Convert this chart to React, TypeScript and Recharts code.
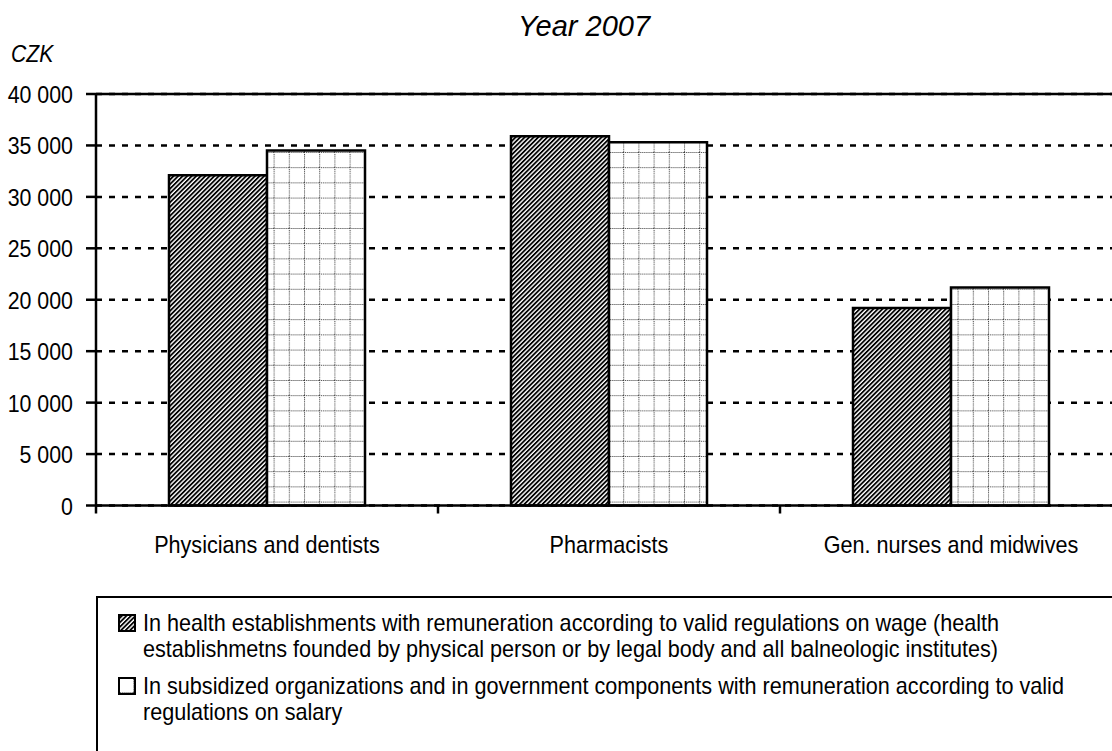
import React from "react";
import {
  Bar,
  BarChart,
  CartesianGrid,
  Legend,
  ReferenceLine,
  XAxis,
  YAxis,
} from "recharts";

const categories = ["Physicians and dentists", "Pharmacists", "Gen. nurses and midwives"];
const healthEstablishments = [32100, 35900, 19200];
const subsidizedOrganizations = [34500, 35300, 21200];
const yTicks = [0, 5000, 10000, 15000, 20000, 25000, 30000, 35000, 40000];

const healthLines = [
  "In health establishments with remuneration according to valid regulations on wage (health",
  "establishmetns founded by physical person or by legal body and all balneologic institutes)",
];
const subsidizedLines = [
  "In subsidized organizations and in government components with remuneration according to valid",
  "regulations on salary",
];

const data = categories.map((name, i) => ({
  name,
  health: healthEstablishments[i],
  subsidized: subsidizedOrganizations[i],
}));

const FONT = '"Liberation Sans", Arial, sans-serif';
const NARROW = 0.9;

const formatThousands = (v: number) => String(v).replace(/\B(?=(\d{3})+(?!\d))/g, " ");

function CategoryTick(props: any) {
  const { x, y, payload } = props;
  const half = payload && typeof payload.offset === "number" ? payload.offset : 0;
  return (
    <g>
      <line x1={x - half} x2={x - half} y1={y - 8} y2={y} stroke="#000" strokeWidth={2.5} />
      <text
        transform={`translate(${x},${y + 39.5}) scale(${NARROW},1)`}
        textAnchor="middle"
        fill="#000"
        fontSize={24}
        fontFamily={FONT}
      >
        {payload.value}
      </text>
    </g>
  );
}

function ValueTick(props: any) {
  const { x, y, payload } = props;
  return (
    <text
      transform={`translate(${x},${y + 9}) scale(0.89,1)`}
      textAnchor="end"
      fill="#000"
      fontSize={24}
      fontFamily={FONT}
    >
      {formatThousands(payload.value)}
    </text>
  );
}

function LegendItem({ pattern, lines, gap }: { pattern: string; lines: string[]; gap: number }) {
  return (
    <div style={{ display: "flex", marginTop: gap }}>
      <div style={{ width: 25, flex: "none", paddingTop: 4 }}>
        <svg width={18} height={18} style={{ display: "block" }}>
          <rect x={1} y={1} width={16} height={16} fill={`url(#${pattern})`} stroke="#000" strokeWidth={2} />
        </svg>
      </div>
      <div style={{ transform: `scaleX(${NARROW})`, transformOrigin: "left top" }}>
        {lines.map((l) => (
          <div key={l} style={{ whiteSpace: "nowrap" }}>{l}</div>
        ))}
      </div>
    </div>
  );
}

function ChartLegend() {
  return (
    <div
      style={{
        borderTop: "2.5px solid #000",
        borderLeft: "2.5px solid #000",
        boxSizing: "border-box",
        width: "100%",
        height: "100%",
        paddingTop: 12,
        paddingLeft: 20,
        fontFamily: FONT,
        fontSize: 24,
        lineHeight: "26px",
        color: "#000",
        textAlign: "left",
      }}
    >
      <LegendItem pattern="hatch" lines={healthLines} gap={0} />
      <LegendItem pattern="grid" lines={subsidizedLines} gap={11} />
    </div>
  );
}

export default function App() {
  return (
    <div
      style={{
        position: "absolute",
        left: 0,
        top: 0,
        width: 1112,
        height: 751,
        overflow: "hidden",
        background: "#fff",
        fontFamily: FONT,
      }}
    >
      <div
        style={{
          position: "absolute",
          left: 484,
          width: 200,
          top: 11.5,
          textAlign: "center",
          fontSize: 29,
          lineHeight: "29px",
          fontStyle: "italic",
          whiteSpace: "nowrap",
        }}
      >
        Year 2007
      </div>
      <div
        style={{
          position: "absolute",
          left: 11,
          top: 43,
          fontSize: 23,
          lineHeight: "23px",
          fontStyle: "italic",
          transform: "scaleX(0.92)",
          transformOrigin: "left top",
        }}
      >
        CZK
      </div>
      <BarChart
        width={1130}
        height={751}
        data={data}
        margin={{ top: 94, right: 8, bottom: 195.5, left: 0 }}
        barCategoryGap={73}
        barGap={0}
      >
        <defs>
          <pattern id="hatch" patternUnits="userSpaceOnUse" width={3.2} height={3.2} patternTransform="rotate(45)">
            <rect width={3.2} height={3.2} fill="#fff" />
            <rect width={1.8} height={3.2} fill="#000" />
          </pattern>
          <pattern id="grid" patternUnits="userSpaceOnUse" width={15.2} height={15.2}>
            <rect width={15.2} height={15.2} fill="#fff" />
            <line x1={0} y1={0.5} x2={15.2} y2={0.5} stroke="#333" strokeWidth={1} strokeDasharray="1 1" />
            <line x1={0.5} y1={0} x2={0.5} y2={15.2} stroke="#333" strokeWidth={1} strokeDasharray="1 1" />
          </pattern>
        </defs>
        <CartesianGrid vertical={false} stroke="#000" strokeWidth={2.5} strokeDasharray="6 7" />
        <ReferenceLine y={40000} stroke="#000" strokeWidth={2.5} />
        <XAxis
          dataKey="name"
          height={50}
          axisLine={{ stroke: "#000", strokeWidth: 2.5 }}
          tickLine={false}
          tickSize={8}
          tickMargin={0}
          interval={0}
          tick={<CategoryTick />}
        />
        <YAxis
          width={96}
          domain={[0, 40000]}
          ticks={yTicks}
          interval={0}
          axisLine={{ stroke: "#000", strokeWidth: 2.5 }}
          tickLine={{ stroke: "#000", strokeWidth: 2.5 }}
          tickSize={10}
          tickMargin={13}
          tick={<ValueTick />}
        />
        <Bar dataKey="health" fill="url(#hatch)" stroke="#000" strokeWidth={2.5} isAnimationActive={false} />
        <Bar dataKey="subsidized" fill="url(#grid)" stroke="#000" strokeWidth={2.5} isAnimationActive={false} />
        <Legend
          layout="horizontal"
          align="center"
          verticalAlign="middle"
          wrapperStyle={{ top: 596, left: 96, width: 1040, height: 170 }}
          content={() => <ChartLegend />}
        />
      </BarChart>
    </div>
  );
}
